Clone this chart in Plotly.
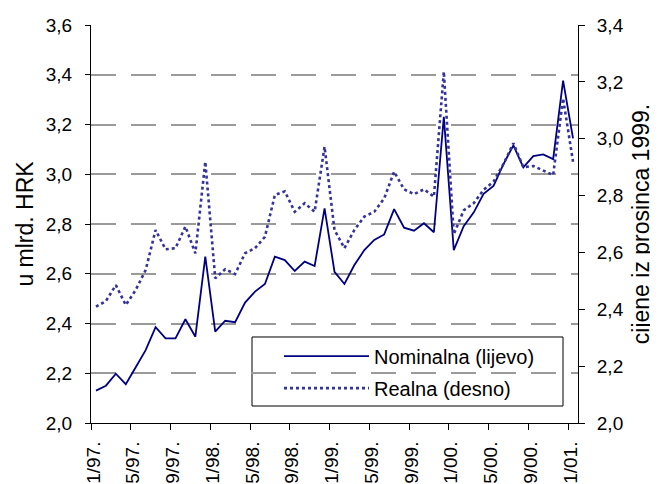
import plotly.graph_objects as go

months = [f"{m}/{y}." for y in ("97", "98", "99", "00") for m in range(1, 13)] + ["1/01."]
idx = list(range(len(months)))

nominal = [2.130, 2.150, 2.198, 2.156, 2.224, 2.293, 2.385, 2.340, 2.340, 2.417,
           2.347, 2.669, 2.367, 2.411, 2.405, 2.484, 2.528, 2.559, 2.669, 2.655,
           2.611, 2.649, 2.631, 2.863, 2.608, 2.559, 2.635, 2.695, 2.736, 2.758,
           2.860, 2.785, 2.773, 2.803, 2.767, 3.231, 2.695, 2.791, 2.846, 2.921,
           2.953, 3.041, 3.116, 3.028, 3.073, 3.080, 3.061, 3.376, 3.144]

realna = [2.409, 2.429, 2.485, 2.415, 2.468, 2.538, 2.679, 2.611, 2.615, 2.691,
          2.597, 2.919, 2.509, 2.541, 2.524, 2.597, 2.615, 2.655, 2.802, 2.815,
          2.743, 2.773, 2.743, 2.972, 2.679, 2.615, 2.679, 2.726, 2.743, 2.790,
          2.884, 2.822, 2.805, 2.822, 2.796, 3.236, 2.664, 2.748, 2.773, 2.820,
          2.849, 2.911, 2.984, 2.900, 2.904, 2.888, 2.872, 3.142, 2.919]

left_range = [2.0, 3.6]
right_range = [2.0, 3.4]
left_ticks = [2.0, 2.2, 2.4, 2.6, 2.8, 3.0, 3.2, 3.4, 3.6]
right_ticks = [2.0, 2.2, 2.4, 2.6, 2.8, 3.0, 3.2, 3.4]

label_pos = [i - 0.25 for i in idx[::4]]
label_txt = months[::4]
bounds = [i - 0.5 for i in idx[::4]]

FONT = "Liberation Sans, Arial, sans-serif"
FS = 19

fig = go.Figure()
fig.add_trace(go.Scatter(x=idx, y=nominal, name="Nominalna (lijevo)", mode="lines",
                         legendgroup="a",
                         line=dict(color="#000080", width=1.8)))
fig.add_trace(go.Scatter(x=idx, y=realna, name="Realna (desno)", mode="lines",
                         legendgroup="b", yaxis="y2",
                         line=dict(color="#333399", width=2.6, dash="3px,3px")))

xr = [-0.5, len(months) - 0.5]
fig.update_layout(
    width=650, height=476,
    margin=dict(l=83, r=80, t=17, b=61),
    paper_bgcolor="white", plot_bgcolor="white",
    separators=",.",
    font=dict(family=FONT, size=FS, color="black"),
    showlegend=True,
    legend=dict(x=0.386, y=0.217, xanchor="left", yanchor="top",
                borderwidth=0, bgcolor="rgba(0,0,0,0)",
                font=dict(size=20), itemwidth=85, tracegroupgap=3),
    shapes=[dict(type="rect", xref="paper", yref="paper",
                 x0=0.3306, x1=0.9692, y0=0.0427, y1=0.2161,
                 line=dict(color="black", width=1), fillcolor="white",
                 layer="between")],
    xaxis=dict(range=xr, tickmode="array", tickvals=label_pos, ticktext=label_txt,
               tickangle=-90, ticks="", showline=True, linecolor="black", linewidth=1,
               showgrid=False, zeroline=False, automargin=False, ticklabelstandoff=10,
               minor=dict(tickmode="array", tickvals=bounds, ticks="outside",
                          ticklen=6, tickcolor="black", tickwidth=1, showgrid=False)),
    xaxis2=dict(range=xr, overlaying="x", side="bottom", anchor="y",
                tickmode="array", tickvals=bounds, ticks="inside", ticklen=6,
                tickcolor="black", showticklabels=False, showgrid=False,
                zeroline=False, showline=False, automargin=False),
    xaxis3=dict(range=xr, overlaying="x", side="top", anchor="y",
                ticks="", showticklabels=False, showgrid=False, zeroline=False,
                showline=True, linecolor="#808080", linewidth=1.5, automargin=False),
    yaxis=dict(range=left_range, tickmode="array", tickvals=left_ticks,
               tickformat=".1f", ticks="outside", ticklen=5, tickcolor="black",
               showline=True, linecolor="black", linewidth=1, zeroline=False,
               showgrid=True, gridcolor="#9a9a9a", gridwidth=1.5, griddash="25px,15px",
               automargin=False, ticklabelstandoff=9,
               title=dict(text="u mlrd. HRK", standoff=5)),
    yaxis2=dict(range=right_range, overlaying="y", side="right", anchor="x",
                tickmode="array", tickvals=right_ticks, tickformat=".1f",
                ticks="outside", ticklen=6, tickcolor="black",
                showline=True, linecolor="black", linewidth=1, zeroline=False,
                showgrid=False, automargin=False, ticklabelstandoff=8,
                title=dict(text="cijene iz prosinca 1999.", standoff=10)),
    yaxis3=dict(range=left_range, overlaying="y", side="left", anchor="x",
                tickmode="array", tickvals=left_ticks, ticks="inside", ticklen=5,
                tickcolor="black", showticklabels=False, showgrid=False,
                zeroline=False, showline=False, automargin=False),
    yaxis4=dict(range=right_range, overlaying="y", side="right", anchor="x",
                tickmode="array", tickvals=right_ticks, ticks="inside", ticklen=6,
                tickcolor="black", showticklabels=False, showgrid=False,
                zeroline=False, showline=False, automargin=False),
)

fig.write_html("out.html")
